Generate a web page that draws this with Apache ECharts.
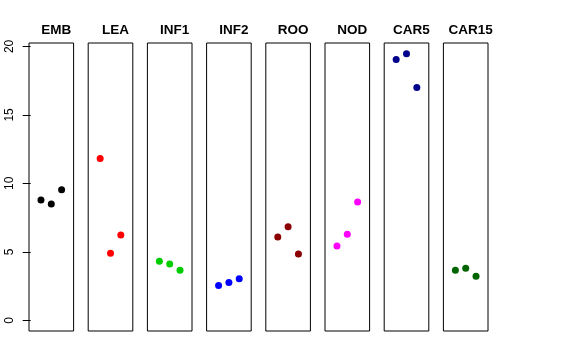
<!DOCTYPE html>
<html><head><meta charset="utf-8">
<script src="https://cdn.jsdelivr.net/npm/echarts@6/dist/echarts.min.js"></script>
<style>html,body{margin:0;padding:0;background:#fff}#c{width:576px;height:360px}</style>
</head><body><div id="c"></div>
<script>
const categories = ["EMB","LEA","INF1","INF2","ROO","NOD","CAR5","CAR15"];
const colors = ["#000000","#FF0000","#00CD00","#0000FF","#8B0000","#FF00FF","#00008B","#006400"];
const xPositions = [1,2,3];
const EMB = [8.78, 8.49, 9.53];
const LEA = [11.82, 4.89, 6.23];
const INF1 = [4.31, 4.11, 3.65];
const INF2 = [2.55, 2.77, 3.04];
const ROO = [6.08, 6.83, 4.84];
const NOD = [5.42, 6.28, 8.64];
const CAR5 = [19.05, 19.46, 17.0];
const CAR15 = [3.65, 3.80, 3.21];
const seriesValues = [EMB, LEA, INF1, INF2, ROO, NOD, CAR5, CAR15];
const yTicks = [0,5,10,15,20];

const chart = echarts.init(document.getElementById('c'), null, {renderer:'canvas'});
const gLeft0 = 29, gStep = 59.2, gW = 44.6, gTop = 43, gH = 288;
const grids = [], xAxes = [], yAxes = [], series = [], titles = [];
categories.forEach((name, i) => {
  const l = gLeft0 + i*gStep;
  grids.push({left: l, top: gTop, width: gW, height: gH, show: true, borderColor: '#000', borderWidth: 1, backgroundColor: 'transparent'});
  xAxes.push({type:'value', gridIndex:i, min:-0.16, max:4.16, show:false});
  yAxes.push({type:'value', gridIndex:i, min:-0.78, max:20.25, show: i===0,
    splitLine:{show:false},
    axisLine:{show:false},
    axisTick:{show:true, length:8, customValues: yTicks, lineStyle:{color:'#000', width:1}},
    axisLabel:{show:true, rotate:90, customValues: yTicks, margin:13, fontSize:12, color:'#000', fontFamily:'Liberation Sans'}
  });
  series.push({type:'scatter', xAxisIndex:i, yAxisIndex:i, symbol:'circle', symbolSize:7,
    itemStyle:{color: colors[i], opacity:1}, silent:true,
    data: seriesValues[i].map((v,k)=>[xPositions[k], v])});
  titles.push({text:name, left: l + gW/2, top: 18, textAlign:'center',
    textStyle:{fontSize:13.5, fontWeight:'bold', color:'#000', fontFamily:'Liberation Sans'}});
});
chart.setOption({animation:false, backgroundColor:'#fff', title:titles, grid:grids, xAxis:xAxes, yAxis:yAxes, series:series});
</script></body></html>
